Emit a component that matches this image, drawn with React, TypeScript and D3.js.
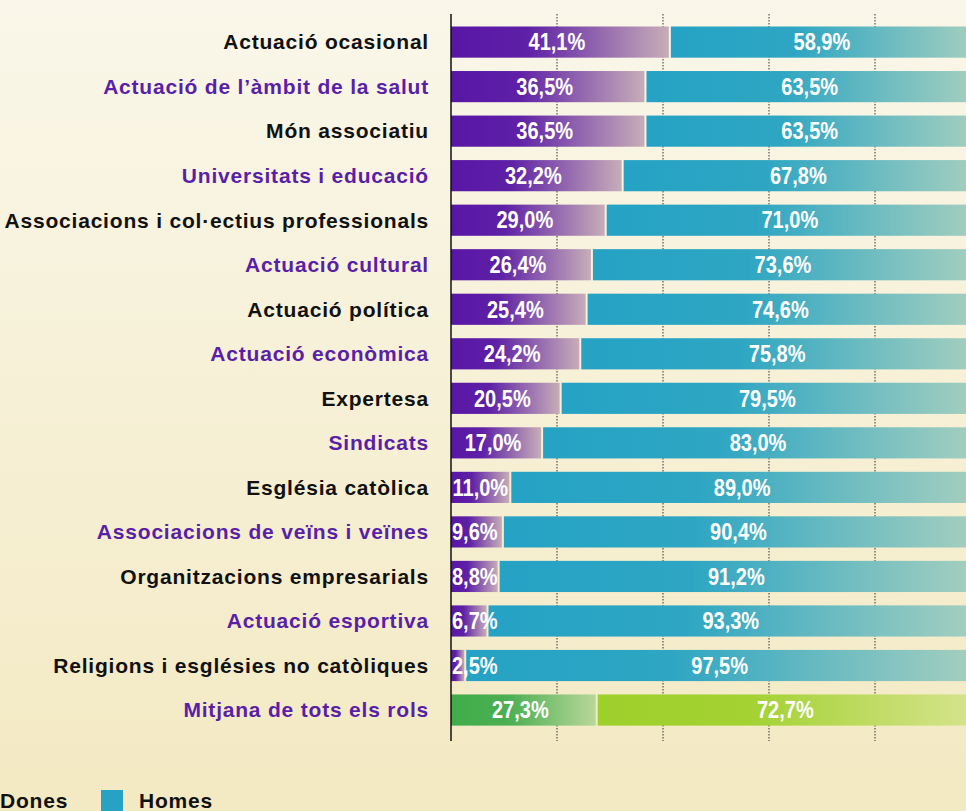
import React, { useEffect } from "react";
import * as d3 from "d3";

const categories = [
  "Actuació ocasional",
  "Actuació de l’àmbit de la salut",
  "Món associatiu",
  "Universitats i educació",
  "Associacions i col·ectius professionals",
  "Actuació cultural",
  "Actuació política",
  "Actuació econòmica",
  "Expertesa",
  "Sindicats",
  "Església catòlica",
  "Associacions de veïns i veïnes",
  "Organitzacions empresarials",
  "Actuació esportiva",
  "Religions i esglésies no catòliques",
  "Mitjana de tots els rols",
];

const dones = [41.1, 36.5, 36.5, 32.2, 29.0, 26.4, 25.4, 24.2, 20.5, 17.0, 11.0, 9.6, 8.8, 6.7, 2.5, 27.3];
const homes = [58.9, 63.5, 63.5, 67.8, 71.0, 73.6, 74.6, 75.8, 79.5, 83.0, 89.0, 90.4, 91.2, 93.3, 97.5, 72.7];
const ticks = [20, 40, 60, 80];

const W = 966;
const H = 811;
const fmt = (v: number) => v.toFixed(1).replace(".", ",") + "%";
// rough width of a condensed value label
const labelW = (v: number) => {
  const s = fmt(v);
  const digits = s.replace(/[^0-9]/g, "").length;
  return digits * 11.1 + 5.6 + 17.8;
};

const LABEL_FONT = "'Liberation Sans', Arial, sans-serif";
const SX = 0.87;

export default function App() {
  useEffect(() => {
    document.body.style.margin = "0";
  }, []);

  const x = d3.scaleLinear().domain([0, 100]).range([451, 981]);
  const step = 44.53;
  const y = d3
    .scaleBand()
    .domain(categories)
    .range([26.5 - 0.15 * step, 26.5 - 0.15 * step + 16 * step])
    .paddingInner(0.3)
    .paddingOuter(0.15);
  const bh = y.bandwidth();
  const last = categories.length - 1;

  const valueText = (cx: number, cy: number, v: number, key: string) => (
    <text
      key={key}
      transform={`translate(${cx},${cy}) scale(${SX},1)`}
      dy="0.36em"
      textAnchor="middle"
      fontFamily={LABEL_FONT}
      fontWeight="bold"
      fontSize={23}
      fill="#fff"
    >
      {fmt(v)}
    </text>
  );

  return (
    <svg width={W} height={H} style={{ display: "block" }}>
      <defs>
        <linearGradient id="bg" x1="0" y1="0" x2="0" y2="1">
          <stop offset="0" stopColor="#faf7ea" />
          <stop offset="1" stopColor="#f3e9c2" />
        </linearGradient>
        <linearGradient id="gD" x1="0" x2="1">
          <stop offset="0" stopColor="#5916a6" />
          <stop offset="0.35" stopColor="#5e20a6" />
          <stop offset="1" stopColor="#c7adb8" />
        </linearGradient>
        <linearGradient id="gH" x1="0" x2="1">
          <stop offset="0" stopColor="#25a2c4" />
          <stop offset="0.4" stopColor="#2ea6c3" />
          <stop offset="1" stopColor="#a8d0bf" />
        </linearGradient>
        <linearGradient id="gD2" x1="0" x2="1">
          <stop offset="0" stopColor="#40ac49" />
          <stop offset="0.4" stopColor="#4caf52" />
          <stop offset="1" stopColor="#b8d79a" />
        </linearGradient>
        <linearGradient id="gH2" x1="0" x2="1">
          <stop offset="0" stopColor="#9ed02a" />
          <stop offset="0.4" stopColor="#a3d233" />
          <stop offset="1" stopColor="#d8e490" />
        </linearGradient>
      </defs>
      <rect width={W} height={H} fill="url(#bg)" />

      {ticks.map((t) => (
        <line
          key={t}
          x1={x(t)}
          x2={x(t)}
          y1={14}
          y2={741}
          stroke="#333"
          strokeWidth={1}
          strokeDasharray="1.5,1.5"
        />
      ))}

      {categories.map((c, i) => {
        const y0 = y(c) as number;
        const cy = y0 + bh / 2;
        const xd = x(dones[i]);
        const avg = i === last;
        const dCx = Math.max((x(0) + xd) / 2 - 3, x(0) + 1 + labelW(dones[i]) / 2);
        return (
          <g key={c}>
            <text
              x={429}
              y={cy}
              dy="0.35em"
              textAnchor="end"
              fontFamily={LABEL_FONT}
              fontWeight="bold"
              fontSize={21}
              letterSpacing={0.8}
              fill={i % 2 === 0 ? "#111" : "#5a1fa8"}
            >
              {c}
            </text>
            <rect x={x(0)} y={y0} width={xd - x(0)} height={bh} fill={avg ? "url(#gD2)" : "url(#gD)"} />
            <rect
              x={xd + 2}
              y={y0}
              width={x(100) - xd - 2}
              height={bh}
              fill={avg ? "url(#gH2)" : "url(#gH)"}
            />
            {valueText(dCx, cy, dones[i], "d")}
            {valueText((xd + x(100)) / 2 - 3, cy, homes[i], "h")}
          </g>
        );
      })}

      <line x1={x(0)} x2={x(0)} y1={14} y2={741} stroke="#111" strokeWidth={1.5} />

      <text x={0} y={808} fontFamily={LABEL_FONT} fontWeight="bold" fontSize={21} letterSpacing={0.8} fill="#111">
        Dones
      </text>
      <rect x={101} y={790} width={22} height={22} fill="#25a2c4" />
      <text x={139} y={808} fontFamily={LABEL_FONT} fontWeight="bold" fontSize={21} letterSpacing={0.8} fill="#111">
        Homes
      </text>
    </svg>
  );
}
